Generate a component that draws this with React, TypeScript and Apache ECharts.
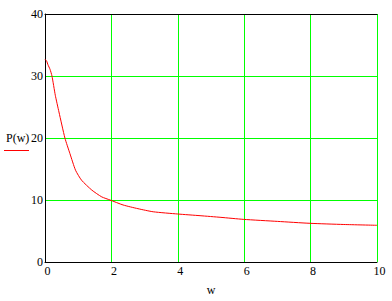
import React, { useEffect, useRef } from "react";
import * as echarts from "echarts";

const wValues = [0, 0.05, 0.09, 0.15, 0.21, 0.31, 0.42, 0.6, 0.75, 0.92, 1.1, 1.41, 1.71, 1.96, 2.35, 2.8, 3.26, 4, 4.67, 5.3, 5.97, 7, 7.98, 9, 10];
const pValues = [32.7, 32.4, 31.8, 31.1, 30.0, 26.9, 24.2, 20.0, 17.5, 14.8, 13.2, 11.6, 10.5, 10.0, 9.2, 8.6, 8.1, 7.74, 7.47, 7.2, 6.88, 6.55, 6.24, 6.05, 5.92];
const xTicks = [0, 2, 4, 6, 8, 10];
const yTicks = [0, 10, 20, 30, 40];
const seriesName = "P(w)";
const xName = "w";

const FONT = "Liberation Serif";

export default function App() {
  const ref = useRef<HTMLDivElement>(null);
  useEffect(() => {
    if (!ref.current) return;
    const chart = echarts.init(ref.current, null, { renderer: "svg" });
    chart.setOption({
      animation: false,
      textStyle: { fontFamily: FONT },
      grid: { left: 45, right: 15, top: 14, bottom: 39, show: false },
      xAxis: [
        {
          type: "value",
          min: xTicks[0],
          max: xTicks[xTicks.length - 1],
          interval: 2,
          name: xName,
          nameLocation: "middle",
          nameGap: 22,
          nameTextStyle: { fontFamily: FONT, fontSize: 12, color: "#000" },
          axisLine: { show: true, onZero: false, lineStyle: { color: "#000", width: 1 } },
          axisTick: { show: false },
          axisLabel: { fontFamily: FONT, fontSize: 12, color: "#000", margin: 3, padding: [0, 0, 0, 5] },
          splitLine: { show: true, showMinLine: false, lineStyle: { color: "#00ff00", width: 1 } },
        },
        {
          type: "value",
          position: "top",
          min: 0,
          max: 10,
          axisLine: { show: true, onZero: false, lineStyle: { color: "#000", width: 1 } },
          axisTick: { show: false },
          axisLabel: { show: false },
          splitLine: { show: false },
        },
      ],
      yAxis: {
        type: "value",
        min: yTicks[0],
        max: yTicks[yTicks.length - 1],
        interval: 10,
        axisLine: { show: true, onZero: false, lineStyle: { color: "#000", width: 1 } },
        axisTick: { show: false },
        axisLabel: { fontFamily: FONT, fontSize: 12, color: "#000", margin: 2 },
        splitLine: { show: true, showMinLine: false, showMaxLine: false, lineStyle: { color: "#00ff00", width: 1 } },
      },
      graphic: [
        {
          type: "text",
          left: 6,
          top: 132,
          style: { text: seriesName, fontFamily: FONT, fontSize: 12, fill: "#000" },
        },
        {
          type: "line",
          shape: { x1: 4, y1: 150.5, x2: 29, y2: 150.5 },
          style: { stroke: "#ff0000", lineWidth: 1 },
        },
      ],
      series: [
        {
          type: "line",
          name: seriesName,
          data: wValues.map((w, i) => [w, pValues[i]]),
          showSymbol: false,
          smooth: 0.2,
          lineStyle: { color: "#ff0000", width: 1 },
        },
      ],
    });
    return () => chart.dispose();
  }, []);
  return <div ref={ref} style={{ width: 392, height: 301, position: "absolute", left: 0, top: 0 }} />;
}
